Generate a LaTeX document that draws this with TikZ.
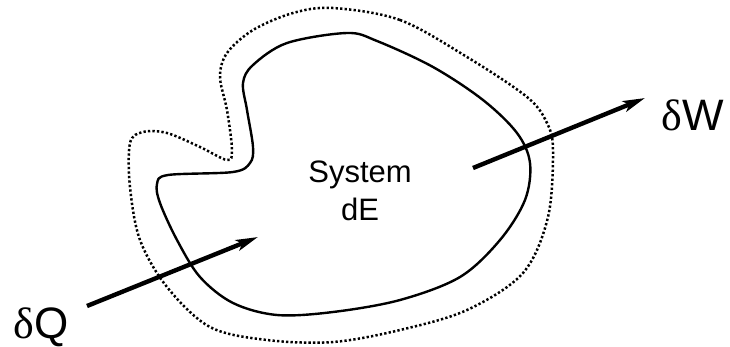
\documentclass[tikz,border=0pt]{standalone}
\usepackage{fontspec}
\setmainfont{Liberation Sans}
\newfontfamily\greekserif{Liberation Serif}
\usetikzlibrary{arrows.meta}
\begin{document}
\begin{tikzpicture}[x=1pt,y=-1pt,
  boundary/.style={line width=2.4pt,line join=round},
  surround/.style={line width=2.5pt,dash pattern=on 2.3pt off 2.2pt},
  flow/.style={line width=4.4pt,-{Stealth[length=22pt,width=11pt,inset=5pt]}},
  biglabel/.style={inner sep=0pt,font=\fontsize{44}{48}\selectfont},
  syslabel/.style={inner sep=0pt,font=\fontsize{31}{36}\selectfont}]
\useasboundingbox (0,0) rectangle (730,346);
% system boundary (solid)
\draw[boundary] plot[smooth cycle,tension=0.55] coordinates {
 (347,33) (377,41) (433,67) (483,100) (517,133) (530,163) (525,200) (500,240)
 (460,277) (400,300) (333,312) (277,315) (233,303) (200,277) (177,240)
 (160,203) (157,184) (168,175) (233,172) (250,163) (253,147) (247,110)
 (243,83) (253,65) (287,43)};
% control surface (dotted)
\draw[surround] plot[smooth cycle,tension=0.55] coordinates {
 (333,8) (400,20) (467,57) (527,97) (547,123) (553,150) (548,217) (523,273)
 (467,310) (400,330) (333,342) (267,340) (210,327) (167,287) (140,240)
 (130,187) (130,143) (143,132) (167,133) (200,147) (227,160) (232,150)
 (227,110) (220,77) (227,53) (253,30) (293,13)};
% arrows
\coordinate (qtail) at (87,306);
\coordinate (qtip) at (258,237);
\coordinate (wtail) at (473,168);
\coordinate (wtip) at (645,98);
\draw[flow] (qtail) -- (qtip);
\draw[flow] (wtail) -- (wtip);
% labels
\node[biglabel,anchor=base] (dq) at (41,338) {{\greekserif δ}Q};
\node[biglabel,anchor=base] (dw) at (693,130) {{\greekserif δ}W};
\node[syslabel,anchor=base] (sys) at (360,182) {System};
\node[syslabel,anchor=base] (de) at (360,220) {dE};
\end{tikzpicture}
\end{document}
